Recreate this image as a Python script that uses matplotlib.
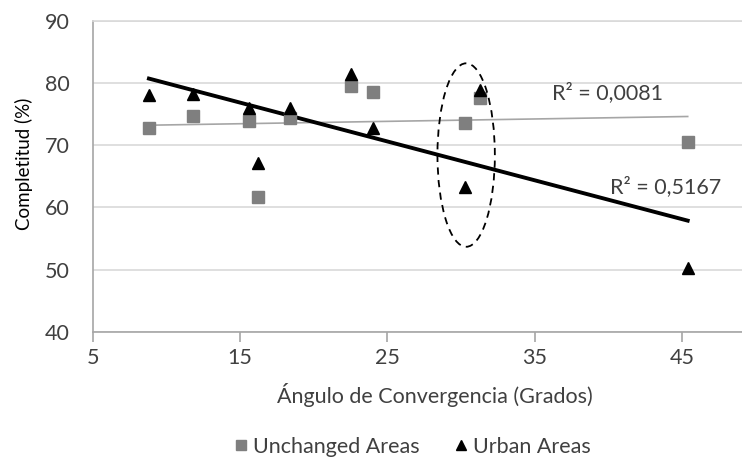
import numpy as np
import matplotlib.pyplot as plt
from matplotlib.patches import Ellipse
from matplotlib.lines import Line2D

plt.rcParams['font.family'] = ['Lato', 'DejaVu Sans']

# angles (degrees) and completeness (%)
angle = [8.8, 11.8, 15.6, 16.2, 18.4, 22.5, 24.0, 30.3, 31.3, 45.4]
unchanged = [72.8, 74.7, 73.9, 61.7, 74.3, 79.5, 78.6, 73.6, 77.6, 70.5]
urban = [78.1, 78.2, 76.0, 67.2, 75.9, 81.4, 72.7, 63.3, 78.9, 50.2]
r2_labels = ['R² = 0,0081', 'R² = 0,5167']
xticks = [5, 15, 25, 35, 45]
yticks = [40, 50, 60, 70, 80, 90]

txt = '#404040'
fs = 15.5
fig = plt.figure(figsize=(7.42, 4.65), dpi=100)
ax = fig.add_axes([93/742, 1-331.7/465, 1-93/742, (331.7-20.7)/465])

x = np.array(angle)
# trend lines
for yv, col, lw in [(unchanged, '#a6a6a6', 1.2), (urban, 'black', 2.8)]:
    p = np.polyfit(x, yv, 1)
    xs = np.array([x.min(), x.max()])
    ax.plot(xs, np.polyval(p, xs), color=col, lw=lw, zorder=2)

ax.plot(x, unchanged, 's', color='#7f7f7f', ms=8.5, zorder=3)
ax.plot(x, urban, '^', color='black', ms=9, zorder=4)

# dashed ellipse around the 30 degree pair
ax.add_patch(Ellipse((x[7] + 0.05, 68.4), 3.9, 29.5, fill=False, ls=(0, (4, 3)),
                     lw=1.3, color='black', zorder=5))

ax.text(36.2, 78.4, r2_labels[0], fontsize=fs, color=txt, va='center')
ax.text(40.1, 63.3, r2_labels[1], fontsize=fs, color=txt, va='center')

ax.set_xlim(5, 5 + (742-93)/14.72)
ax.set_ylim(40, 90)
ax.set_xticks(xticks)
ax.set_yticks(yticks)
ax.grid(axis='y', color='#d9d9d9', lw=1.2)
ax.set_axisbelow(True)
ax.spines['right'].set_visible(False)
for s in ['left', 'bottom', 'top']:
    ax.spines[s].set_color('#a6a6a6')
    ax.spines[s].set_linewidth(1.2)
ax.spines['top'].set_color('#d9d9d9')
ax.tick_params(axis='x', length=7, color='#a6a6a6', width=1.2, labelsize=fs,
               labelcolor=txt, pad=5)
ax.tick_params(axis='y', length=0, labelsize=fs, labelcolor=txt, pad=17)

ax.set_ylabel('Completitud (%)', fontsize=13.5, color='black')
ax.yaxis.set_label_coords(-0.093, 0.54)
fig.text(435/742, 1-395/465, 'Ángulo de Convergencia (Grados)', fontsize=fs,
         color=txt, ha='center', va='center')

handles = [Line2D([], [], marker='s', color='#7f7f7f', ls='', ms=7),
           Line2D([], [], marker='^', color='black', ls='', ms=7)]
fig.legend(handles, ['Unchanged Areas', 'Urban Areas'], loc='center',
           bbox_to_anchor=(412/742, 1-447/465), ncol=2, frameon=False,
           fontsize=fs, labelcolor=txt, handlelength=0.7, handletextpad=0.2,
           columnspacing=1.6)

fig.savefig('out.png', dpi=100)
